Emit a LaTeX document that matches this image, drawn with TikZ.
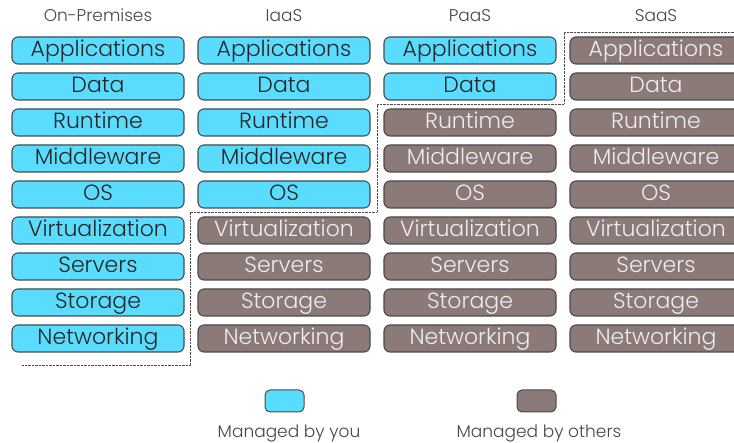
\documentclass[tikz,border=0pt]{standalone}
\usepackage{fontspec}
\setmainfont{Poppins}[UprightFont=* Light]
\definecolor{you}{HTML}{5ADCFF}
\definecolor{others}{HTML}{8C7A79}
\definecolor{edge}{HTML}{4A4A4A}
\begin{document}
\begin{tikzpicture}[x=1pt,y=-1pt]
\tikzset{
  layer/.style={draw=edge, line width=1.1pt, rounded corners=6pt,
    minimum width=172pt, minimum height=27pt, inner sep=0pt,
    text height=16.5pt, text depth=3.5pt,
    font=\fontsize{22}{22}\selectfont},
  mine/.style={layer, fill=you, text=black!85},
  theirs/.style={layer, fill=others, text=white!93!black},
  head/.style={anchor=base, font=\fontsize{17}{17}\selectfont, text=black!72},
  sep/.style={line width=0.9pt, black!70, dash pattern=on 0.7pt off 0.7pt},
  legbox/.style={draw=edge, line width=1pt, rounded corners=5pt,
    minimum width=39pt, minimum height=22pt, inner sep=0pt}
}
\useasboundingbox (0,0) rectangle (734,443);
\clip (0,0) rectangle (734,443);
\fill[white] (0,0) rectangle (734,443);
% headers
\node[head] (h1) at (98,22) {On-Premises};
\node[head] (h2) at (284,22) {IaaS};
\node[head] (h3) at (470,22) {PaaS};
\node[head] (h4) at (656,22) {SaaS};
% layers
\foreach \c/\x/\k in {1/98/9, 2/284/5, 3/470/2, 4/656/0}{
  \foreach \t [count=\r] in {Applications,Data,Runtime,Middleware,OS,Virtualization,Servers,Storage,Networking}{
    \ifnum\r>\k\relax \def\sty{theirs}\else\def\sty{mine}\fi
    \node[\sty] (c\c r\r) at (\x,{50.5+36*(\r-1)}) {\t};
  }
}
% separator
\draw[sep] (22,365) -- (190,365) -- (190,212) -- (377,212) -- (377,104)
  -- (564,104) -- (564,32) -- (740,32);
% legend
\node[legbox, fill=you] (lyou) at (284.5,401) {};
\node[legbox, fill=others] (lothers) at (536.5,401) {};
\node[head] (tyou) at (289,438) {Managed by you};
\node[head] (tothers) at (539,438) {Managed by others};
\end{tikzpicture}
\end{document}
